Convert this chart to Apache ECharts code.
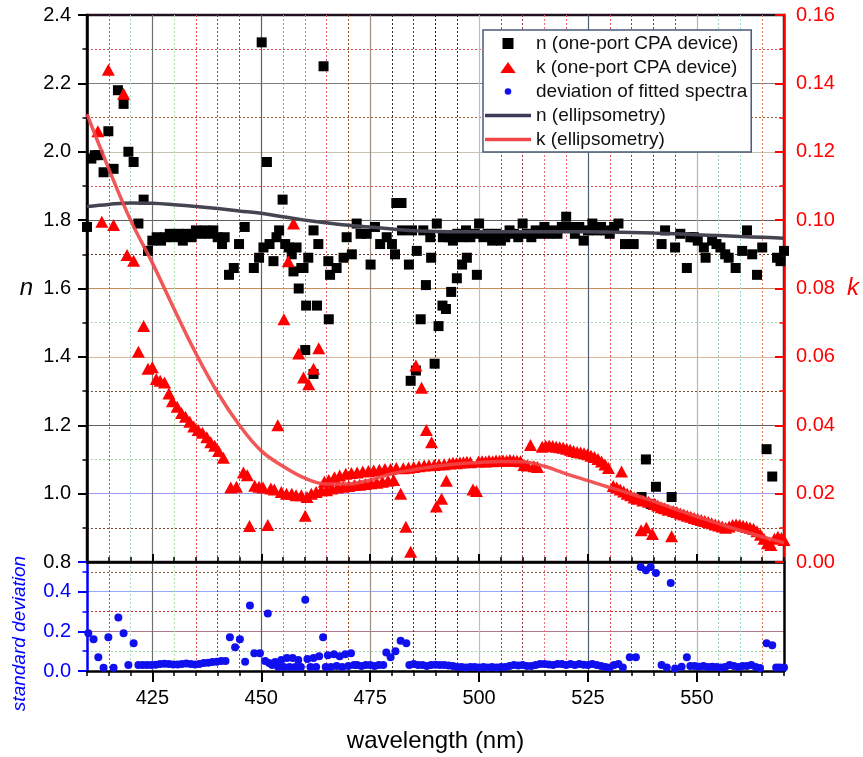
<!DOCTYPE html>
<html>
<head>
<meta charset="utf-8">
<title>n, k and fit deviation vs wavelength</title>
<script src="https://cdn.jsdelivr.net/npm/echarts@6/dist/echarts.min.js"></script>
<style>
  html, body { margin: 0; padding: 0; background: #ffffff; }
  #chart { width: 863px; height: 757px; }
</style>
</head>
<body>
<div id="chart"></div>
<script>
// ---- data -------------------------------------------------------------
const majorWavelengths = [425, 450, 475, 500, 525, 550];

// refractive index n, one-port CPA device
const nWave = [410, 411, 411.8, 412.6, 413.8, 414.9, 416.1, 417.1, 418.4, 419.5,
  420.7, 421.8, 423.0, 424.0, 425, 426, 427, 428, 429, 430,
  431, 432, 433, 434, 435, 436, 437, 438, 439, 440,
  441, 441.6, 442.6, 443.7, 444.9, 446.2, 448.3, 449.5, 450.1, 450.5,
  451.3, 451.9, 452.8, 453.5, 454.1, 454.9, 455.5, 456.3, 457.0, 457.4,
  458.1, 458.6, 459.2, 459.7, 460.1, 460.3, 460.8, 462.0, 462.0, 462.8,
  463.1, 464.3, 465.4, 465.5, 465.8, 467.3, 468.9, 469.6, 470.8, 471.9,
  472.8, 474.2, 475.1, 476.1, 477.3, 478.8, 480.0, 480.7, 481.0, 482.2,
  482.3, 483.9, 484.3, 484.6, 485.5, 485.7, 486.6, 487.2, 487.8, 488.8,
  489.0, 489.8, 490.3, 490.7, 491.6, 491.7, 492.4, 493.0, 493.6, 494.0,
  494.9, 495.0, 496.0, 496.1, 497.0, 497.2, 498.0, 499.0, 499.5, 500,
  501, 502, 503, 504, 505, 506, 507, 508, 509, 510,
  511, 512, 513, 514, 515, 516, 517, 518, 519, 520,
  521, 522, 523, 524, 525, 526, 527, 528, 529, 530,
  531, 532, 533.5, 535.5, 537.3, 538.3, 539.4, 540.6, 541.9, 542.7,
  544.2, 545.0, 546.2, 547.7, 548.5, 549.3, 550.2, 551.6, 552.0, 553.5,
  554.5, 555.4, 556.5, 557.3, 558.9, 560.4, 561.5, 562.7, 563.8, 565.0,
  566.0, 567.3, 568.4, 569.2, 570.0];
const nDevice = [1.78, 1.98, 1.99, 1.99, 1.94, 2.06, 1.95, 2.18, 2.14, 2.00,
  1.97, 1.79, 1.86, 1.71, 1.74, 1.75, 1.74, 1.75, 1.76, 1.75,
  1.76, 1.74, 1.76, 1.75, 1.77, 1.76, 1.77, 1.76, 1.77, 1.75,
  1.73, 1.75, 1.64, 1.66, 1.73, 1.78, 1.66, 1.69, 2.32, 1.72,
  1.97, 1.73, 1.68, 1.75, 1.77, 1.86, 1.73, 1.72, 1.70, 1.65,
  1.72, 1.60, 1.66, 1.66, 1.42, 1.55, 1.69, 1.77, 1.35, 1.55,
  1.73, 2.25, 1.68, 1.51, 1.64, 1.66, 1.69, 1.75, 1.70, 1.79,
  1.76, 1.76, 1.67, 1.78, 1.73, 1.75, 1.73, 1.70, 1.85, 1.85,
  1.77, 1.67, 1.33, 1.77, 1.36, 1.71, 1.51, 1.77, 1.61, 1.75,
  1.69, 1.38, 1.79, 1.49, 1.55, 1.75, 1.54, 1.75, 1.59, 1.74,
  1.63, 1.76, 1.75, 1.67, 1.77, 1.69, 1.75, 1.76, 1.64, 1.79,
  1.75, 1.76, 1.74, 1.76, 1.74, 1.75, 1.77, 1.76, 1.75, 1.79,
  1.76, 1.75, 1.77, 1.76, 1.78, 1.76, 1.77, 1.76, 1.78, 1.81,
  1.78, 1.76, 1.78, 1.74, 1.77, 1.79, 1.77, 1.78, 1.77, 1.76,
  1.78, 1.79, 1.73, 1.73, 0.99, 1.10, 0.97, 1.02, 1.73, 1.77,
  0.99, 1.72, 1.76, 1.66, 1.75, 1.75, 1.74, 1.72, 1.69, 1.74,
  1.73, 1.72, 1.70, 1.69, 1.66, 1.71, 1.77, 1.70, 1.64, 1.72,
  1.13, 1.05, 1.69, 1.68, 1.71];

// extinction coefficient k, one-port CPA device
const kWave = [412.5, 413.4, 414.9, 416.1, 418.4, 419.2, 420.7, 421.8, 423.0, 424.0,
  425.0, 425.9, 426.8, 427.8, 428.8, 429.6, 430.7, 431.7, 432.6, 433.6,
  434.5, 435.5, 436.5, 437.5, 438.4, 439.3, 440.2, 441.3, 443.0, 444.3,
  445.9, 446.8, 447.3, 448.5, 449.5, 450.4, 451.5, 452.2, 453.0, 453.8,
  454.6, 455.2, 455.8, 456.2, 457.0, 457.4, 458.0, 458.6, 459.2, 459.7,
  460.1, 460.5, 460.9, 461.5, 462.0, 462.6, 463.2, 463.8, 464.5, 465.0,
  465.5, 466.2, 466.8, 467.5, 468.0, 468.8, 469.4, 470.1, 470.7, 471.4,
  472.0, 472.6, 473.3, 473.9, 474.6, 475.2, 475.8, 476.5, 477.1, 477.8,
  478.4, 479.1, 479.7, 480.4, 481.0, 482.0, 482.6, 483.2, 483.8, 484.3,
  485.0, 485.5, 486.2, 486.8, 487.4, 487.9, 488.5, 489.1, 489.7, 490.2,
  490.8, 491.4, 492.0, 492.5, 493.2, 494.0, 494.8, 495.6, 496.4, 497.2,
  498.0, 498.6, 499.4, 499.9, 500.7, 501.5, 502.3, 503.1, 503.9, 504.7,
  505.5, 506.3, 507.1, 507.9, 508.7, 509.5, 510.3, 511.1, 511.8, 512.6,
  513.4, 514.5, 515.3, 516.1, 516.9, 517.7, 518.5, 519.3, 520.1, 520.9,
  521.7, 522.5, 523.3, 524.1, 524.9, 525.7, 526.5, 527.3, 528.1, 528.9,
  529.7, 530.8, 531.6, 532.4, 532.7, 533.2, 534.0, 534.8, 535.6, 536.4,
  537.2, 537.6, 538.4, 538.9, 539.8, 540.2, 541.0, 541.8, 542.6, 543.4,
  544.2, 544.6, 545.4, 546.2, 547.0, 547.8, 548.6, 549.4, 550.2, 551.0,
  551.8, 552.6, 553.4, 554.2, 555.0, 555.8, 556.6, 557.4, 558.2, 559.0,
  559.8, 560.6, 561.4, 562.2, 563.0, 563.8, 564.6, 565.4, 566.2, 567.0,
  567.8, 568.6, 569.4, 570.0];
const kDevice = [0.126, 0.0995, 0.144, 0.0986, 0.137, 0.0898, 0.0881, 0.0615, 0.0690, 0.0565,
  0.0570, 0.0535, 0.0530, 0.0525, 0.0493, 0.0470, 0.0454, 0.0436, 0.0425, 0.0410,
  0.0396, 0.0386, 0.0378, 0.0365, 0.0350, 0.0340, 0.0325, 0.0305, 0.0218, 0.0220,
  0.0262, 0.0254, 0.0105, 0.0223, 0.0220, 0.0218, 0.0108, 0.0215, 0.0212, 0.0400,
  0.0205, 0.0710, 0.0200, 0.0880, 0.0200, 0.0990, 0.0195, 0.0610, 0.0195, 0.0540,
  0.0135, 0.0190, 0.0520, 0.0200, 0.0565, 0.0205, 0.0625, 0.0210, 0.0235, 0.0210,
  0.0240, 0.0215, 0.0248, 0.0218, 0.0253, 0.0220, 0.0258, 0.0222, 0.0260, 0.0225,
  0.0262, 0.0226, 0.0265, 0.0228, 0.0266, 0.0230, 0.0268, 0.0232, 0.0270, 0.0235,
  0.0272, 0.0238, 0.0272, 0.0240, 0.0275, 0.0200, 0.0274, 0.0103, 0.0276, 0.0030,
  0.0278, 0.0575, 0.0280, 0.0510, 0.0282, 0.0386, 0.0283, 0.0350, 0.0284, 0.0162,
  0.0285, 0.0185, 0.0286, 0.0238, 0.0288, 0.0290, 0.0289, 0.0291, 0.0292, 0.0293,
  0.0292, 0.0212, 0.0208, 0.0294, 0.0295, 0.0294, 0.0296, 0.0295, 0.0297, 0.0296,
  0.0297, 0.0296, 0.0298, 0.0297, 0.0296, 0.0295, 0.0284, 0.0282, 0.0342, 0.0280,
  0.0278, 0.0337, 0.0340, 0.0341, 0.0339, 0.0337, 0.0336, 0.0334, 0.0331, 0.0328,
  0.0325, 0.0322, 0.0320, 0.0318, 0.0315, 0.0311, 0.0307, 0.0301, 0.0294, 0.0285,
  0.0275, 0.0222, 0.0218, 0.0212, 0.0265, 0.0206, 0.0200, 0.0195, 0.0189, 0.0185,
  0.0093, 0.0180, 0.0100, 0.0176, 0.0082, 0.0170, 0.0165, 0.0160, 0.0157, 0.0153,
  0.0075, 0.0149, 0.0146, 0.0142, 0.0139, 0.0135, 0.0132, 0.0129, 0.0126, 0.0123,
  0.0120, 0.0117, 0.0113, 0.0110, 0.0107, 0.0104, 0.0100, 0.0104, 0.0108, 0.0110,
  0.0108, 0.0106, 0.0103, 0.0100, 0.0097, 0.0090, 0.0080, 0.0068, 0.0055, 0.0050,
  0.0068, 0.0074, 0.0070, 0.0064];

// standard deviation of the fitted spectra
const sdWave = [410.3, 411.5, 412.6, 413.8, 414.9, 416.1, 417.2, 418.4, 419.5, 420.7,
  421.8, 422.8, 423.8, 424.8, 425.8, 426.8, 427.8, 428.8, 429.8, 430.8,
  431.8, 432.8, 433.8, 434.8, 435.8, 436.8, 437.8, 438.8, 439.8, 440.8,
  441.8, 442.8, 444.0, 445.1, 446.3, 447.4, 448.4, 449.7, 450.9, 451.5,
  451.8, 452.5, 453.2, 453.9, 454.6, 455.2, 455.9, 456.5, 457.2, 457.8,
  458.5, 459.1, 460.1, 460.6, 461.3, 462.0, 462.6, 463.3, 464.2, 464.8,
  465.3, 466.0, 466.7, 467.3, 468.0, 468.6, 469.3, 470.0, 470.6, 471.3,
  472.0, 473.0, 474.0, 475.0, 476.0, 477.0, 478.0, 478.7, 479.7, 480.8,
  482.0, 483.3, 484.0, 485.0, 486.0, 487.0, 488.0, 489.0, 490.0, 491.0,
  492.0, 493.0, 494.0, 495.0, 496.0, 497.0, 498.0, 499.0, 500.0, 501.0,
  502.0, 503.0, 504.0, 505.0, 506.0, 507.0, 508.0, 509.0, 510.0, 511.0,
  512.0, 513.0, 514.0, 515.0, 516.0, 517.0, 518.0, 519.0, 520.0, 521.0,
  522.0, 523.0, 524.0, 525.0, 526.0, 527.0, 528.0, 529.0, 530.0, 531.0,
  532.0, 533.0, 534.6, 536.0, 537.1, 538.3, 539.4, 540.6, 541.9, 543.1,
  544.0, 545.0, 546.5, 547.7, 548.5, 549.5, 550.5, 551.5, 552.5, 553.5,
  554.5, 555.5, 556.5, 557.5, 558.5, 559.5, 560.5, 561.5, 562.5, 563.5,
  564.5, 566.0, 567.3, 568.2, 569.0, 570.0];
const sdValue = [0.19, 0.16, 0.07, 0.017, 0.17, 0.017, 0.27, 0.19, 0.03, 0.14,
  0.03, 0.03, 0.03, 0.03, 0.032, 0.035, 0.037, 0.035, 0.033, 0.033,
  0.035, 0.038, 0.035, 0.033, 0.035, 0.040, 0.042, 0.045, 0.047, 0.050,
  0.050, 0.17, 0.12, 0.16, 0.047, 0.33, 0.09, 0.09, 0.05, 0.29,
  0.04, 0.03, 0.045, 0.02, 0.055, 0.02, 0.065, 0.02, 0.065, 0.02,
  0.055, 0.02, 0.36, 0.06, 0.02, 0.065, 0.02, 0.075, 0.17, 0.02,
  0.08, 0.02, 0.085, 0.025, 0.075, 0.02, 0.085, 0.025, 0.09, 0.03,
  0.03, 0.025, 0.03, 0.03, 0.025, 0.03, 0.03, 0.093, 0.07, 0.10,
  0.153, 0.14, 0.03, 0.035, 0.03, 0.03, 0.025, 0.03, 0.032, 0.03,
  0.03, 0.028, 0.025, 0.02, 0.02, 0.018, 0.02, 0.02, 0.018, 0.02,
  0.018, 0.02, 0.018, 0.02, 0.02, 0.025, 0.03, 0.028, 0.03, 0.025,
  0.025, 0.03, 0.035, 0.035, 0.033, 0.03, 0.035, 0.035, 0.03, 0.035,
  0.03, 0.035, 0.032, 0.03, 0.035, 0.03, 0.025, 0.02, 0.018, 0.03,
  0.035, 0.018, 0.07, 0.07, 0.525, 0.508, 0.525, 0.495, 0.03, 0.018,
  0.444, 0.013, 0.022, 0.07, 0.025, 0.025, 0.022, 0.025, 0.02, 0.022,
  0.02, 0.018, 0.02, 0.03, 0.025, 0.02, 0.025, 0.025, 0.03, 0.02,
  0.015, 0.14, 0.13, 0.018, 0.018, 0.018];

// ellipsometry reference curves
const ellWave = [410, 415, 420, 425, 430, 435, 440, 445, 450, 455,
  460, 465, 470, 475, 480, 485, 490, 495, 500, 505,
  510, 515, 520, 525, 530, 535, 540, 545, 550, 555,
  560, 565, 570];
const nEllipsometry = [1.840, 1.846, 1.850, 1.849, 1.845, 1.840, 1.834, 1.827, 1.820, 1.810,
  1.800, 1.792, 1.785, 1.780, 1.774, 1.769, 1.767, 1.766, 1.766, 1.766,
  1.766, 1.766, 1.766, 1.766, 1.765, 1.764, 1.762, 1.760, 1.757, 1.755,
  1.752, 1.750, 1.747];
const kEllipsometry = [0.131, 0.115, 0.100, 0.0875, 0.0740, 0.0610, 0.0495, 0.0400, 0.0325, 0.0280,
  0.0245, 0.0228, 0.0228, 0.0240, 0.0258, 0.0270, 0.0280, 0.0287, 0.0291, 0.0294,
  0.0293, 0.0280, 0.0258, 0.0238, 0.0218, 0.0199, 0.0178, 0.0155, 0.0133, 0.0112,
  0.0092, 0.0074, 0.0056];

const seriesNames = ['n (one-port CPA device)', 'k (one-port CPA device)',
  'deviation of fitted spectra', 'n (ellipsometry)', 'k (ellipsometry)'];

// ---- styling helpers ------------------------------------------------------
const FONT = '"Liberation Sans", Arial, sans-serif';
const T = 'rgba(0,0,0,0)';
const pair = (xs, ys) => xs.map((x, i) => [x, ys[i]]);

// colours of the vertical gridlines, one per 5 nm from 410 to 570
const xMinorColors = [T, '#e04848', '#a8d8c8', T, '#b0e0b0', '#e05050', '#8a5030', '#b04040',
  T, '#c080c0', '#f06080', '#e06070', '#a05020', T, '#303030', '#404040', '#202020', '#303030',
  T, '#805070', '#904040', '#f07080', '#f06070', T, '#e05050', '#b03030', '#704020', '#705030',
  T, '#a0d0b0', '#90d8d0', '#e08060', T];
const xMajorColors = ['#707070', '#606060', '#9a9088', '#a8c0f0', '#4e5e74', '#a8b8c8'];
const nMajorColors = [T, '#9a9af0', '#606060', '#d8b898', '#c89058', '#606060', '#c8c0b0', '#808080', T];
const nMinorColors = [T, '#804830', T, '#a8d8a8', T, '#805030', T, '#a8d8a8', T, '#703020',
  T, '#e05050', T, '#a06030', T, '#e05050', T];
const sdMajorColors = [T, '#b07890', '#98a8f8', T];
const sdMinorColors = [T, '#a8d8a8', T, '#c03030', T, '#806040', T];

function majorX(gridIndex, withLabels) {
  return {
    type: 'value', gridIndex, position: 'bottom', min: 410, max: 570,
    axisLine: { show: true, onZero: false, lineStyle: { color: '#000', width: 2.5 } },
    axisTick: { show: true, customValues: majorWavelengths, inside: !withLabels,
      length: withLabels ? 11 : 8, lineStyle: { color: '#000', width: 2 } },
    axisLabel: { show: withLabels, customValues: majorWavelengths, color: '#000',
      fontSize: 20, fontFamily: FONT, margin: 17 },
    splitLine: { show: true, lineStyle: { color: xMajorColors, width: 1.2 } },
    name: withLabels ? 'wavelength (nm)' : '', nameLocation: 'middle', nameGap: 58,
    nameTextStyle: { fontSize: 24, fontFamily: FONT, color: '#000' }
  };
}
function minorX(gridIndex, inside) {
  return {
    type: 'value', gridIndex, position: 'bottom', min: 410, max: 570, interval: 5,
    axisLine: { show: false, onZero: false },
    axisTick: { show: true, inside, length: 5, lineStyle: { color: '#000', width: 1.5 } },
    axisLabel: { show: false },
    splitLine: { show: true, lineStyle: { color: xMinorColors, width: 1, type: [2, 2] } }
  };
}

const option = {
  animation: false,
  backgroundColor: '#ffffff',
  textStyle: { fontFamily: FONT },
  grid: [
    { left: 87, top: 15, width: 697, height: 547, show: true,
      borderColor: '#201020', borderWidth: 2.5, backgroundColor: 'transparent' },
    { left: 87, top: 562, width: 697, height: 109, show: false }
  ],
  legend: {
    orient: 'vertical', left: 483, top: 30,
    padding: [4, 4, 3, 2], itemGap: 5, itemWidth: 46, itemHeight: 11,
    symbolKeepAspect: true,
    backgroundColor: '#ffffff', borderColor: '#4a5a78', borderWidth: 1.5, borderRadius: 0,
    selectedMode: false,
    textStyle: { fontSize: 19, fontFamily: FONT, color: '#111' },
    data: [
      { name: seriesNames[0], icon: 'path://M0 0L10 0L10 10L0 10Z' },
      { name: seriesNames[1], icon: 'path://M0 10L7 0L14 10Z' },
      { name: seriesNames[2], icon: 'path://M0 0M12 12M6 2.4A3.6 3.6 0 1 1 5.99 2.4Z' },
      { name: seriesNames[3], icon: 'path://M0 0L46 0L46 3.5L0 3.5Z' },
      { name: seriesNames[4], icon: 'path://M0 0L46 0L46 3.5L0 3.5Z' }
    ]
  },
  xAxis: [majorX(0, false), minorX(0, true), majorX(1, true), minorX(1, false)],
  yAxis: [
    { // n
      type: 'value', gridIndex: 0, position: 'left', min: 0.8, max: 2.4, interval: 0.2,
      axisLine: { show: true, onZero: false, lineStyle: { color: '#000', width: 2.5 } },
      axisTick: { show: true, length: 9, lineStyle: { color: '#000', width: 2 } },
      minorTick: { show: true, splitNumber: 2, length: 4.5, lineStyle: { color: '#000', width: 1.5 } },
      axisLabel: { color: '#000', fontSize: 20, fontFamily: FONT, margin: 16,
        formatter: v => v.toFixed(1) },
      splitLine: { show: true, lineStyle: { color: nMajorColors, width: 1.2 } },
      name: 'n', nameLocation: 'middle', nameRotate: 0, nameGap: 54,
      nameTextStyle: { fontSize: 24, fontStyle: 'italic', fontFamily: FONT, color: '#000' }
    },
    { // n minor gridlines
      type: 'value', gridIndex: 0, position: 'left', min: 0.8, max: 2.4, interval: 0.1,
      axisLine: { show: false }, axisTick: { show: false }, axisLabel: { show: false },
      splitLine: { show: true, lineStyle: { color: nMinorColors, width: 1, type: [2, 2] } }
    },
    { // k
      type: 'value', gridIndex: 0, position: 'right', min: 0, max: 0.16, interval: 0.02,
      axisLine: { show: true, onZero: false, lineStyle: { color: '#ff0000', width: 2.5 } },
      axisTick: { show: true, inside: true, length: 9, lineStyle: { color: '#ff0000', width: 2 } },
      minorTick: { show: true, splitNumber: 2, length: 4.5, lineStyle: { color: '#ff0000', width: 1.5 } },
      axisLabel: { color: '#ff0000', fontSize: 20, fontFamily: FONT, margin: 12,
        formatter: v => v.toFixed(2) },
      splitLine: { show: false },
      name: 'k', nameLocation: 'middle', nameRotate: 0, nameGap: 63,
      nameTextStyle: { fontSize: 24, fontStyle: 'italic', fontFamily: FONT, color: '#ff0000' }
    },
    { // standard deviation
      type: 'value', gridIndex: 1, position: 'left', min: 0, max: 0.55, interval: 0.2,
      axisLine: { show: true, onZero: false, lineStyle: { color: '#0000ff', width: 2.5 } },
      axisTick: { show: true, length: 9, lineStyle: { color: '#0000ff', width: 2 } },
      minorTick: { show: true, splitNumber: 2, length: 4.5, lineStyle: { color: '#0000ff', width: 1.5 } },
      axisLabel: { color: '#0000ff', fontSize: 20, fontFamily: FONT, margin: 16,
        formatter: v => (Math.abs(v * 5 - Math.round(v * 5)) < 1e-6 ? v.toFixed(1) : '') },
      splitLine: { show: true, lineStyle: { color: sdMajorColors, width: 1.2 } },
      name: 'standard deviation', nameLocation: 'middle', nameRotate: 90, nameGap: 58,
      nameTextStyle: { fontSize: 19, fontStyle: 'italic', fontFamily: FONT, color: '#0000ff',
        padding: [0, 34, 0, 0] }
    },
    { // standard deviation minor gridlines
      type: 'value', gridIndex: 1, position: 'left', min: 0, max: 0.55, interval: 0.1,
      axisLine: { show: false }, axisTick: { show: false }, axisLabel: { show: false },
      splitLine: { show: true, lineStyle: { color: sdMinorColors, width: 1, type: [2, 2] } }
    },
    { // right frame of the lower panel
      type: 'value', gridIndex: 1, position: 'right', min: 0, max: 0.55,
      axisLine: { show: true, onZero: false, lineStyle: { color: '#000', width: 2.5 } },
      axisTick: { show: false }, axisLabel: { show: false }, splitLine: { show: false }
    }
  ],
  series: [
    { name: seriesNames[0], type: 'scatter', xAxisIndex: 0, yAxisIndex: 0,
      symbol: 'rect', symbolSize: 10, itemStyle: { color: '#000', opacity: 1 },
      data: pair(nWave, nDevice) },
    { name: seriesNames[1], type: 'scatter', xAxisIndex: 0, yAxisIndex: 2,
      symbol: 'triangle', symbolSize: [13, 12], itemStyle: { color: '#ff0000', opacity: 1 },
      data: pair(kWave, kDevice) },
    { name: seriesNames[2], type: 'scatter', xAxisIndex: 2, yAxisIndex: 3,
      symbol: 'circle', symbolSize: 8, itemStyle: { color: '#1010ee', opacity: 1 },
      data: pair(sdWave, sdValue) },
    { name: seriesNames[3], type: 'line', xAxisIndex: 0, yAxisIndex: 0,
      smooth: 0.4, symbol: 'none', lineStyle: { color: '#454552', width: 3.5 },
      itemStyle: { color: '#3c3c58' },
      data: pair(ellWave, nEllipsometry) },
    { name: seriesNames[4], type: 'line', xAxisIndex: 0, yAxisIndex: 2,
      smooth: 0.4, symbol: 'none', lineStyle: { color: '#f04545', width: 3.5, opacity: 0.9 },
      itemStyle: { color: '#f04848' },
      data: pair(ellWave, kEllipsometry) }
  ]
};

const chart = echarts.init(document.getElementById('chart'), null, { renderer: 'canvas' });
chart.setOption(option);
</script>
</body>
</html>
